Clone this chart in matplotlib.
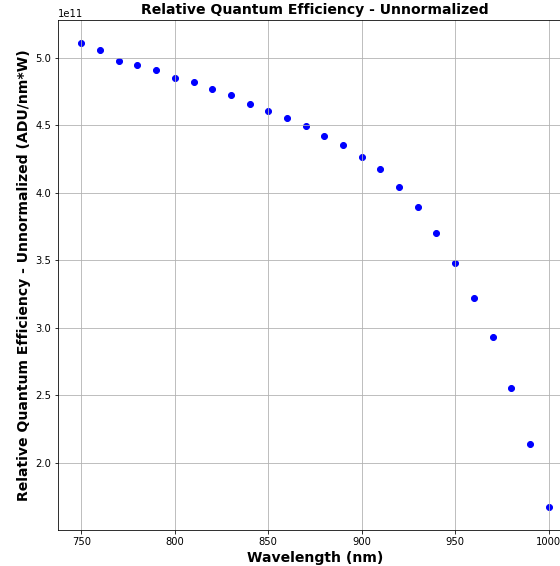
import matplotlib
matplotlib.use('Agg')
import matplotlib.pyplot as plt
import numpy as np

# 波長 (nm) 與未正規化量子效率
wavelength = [750, 760, 770, 780, 790, 800, 810, 820, 830, 840, 850, 860, 870,
              880, 890, 900, 910, 920, 930, 940, 950, 960, 970, 980, 990, 1000]
qe = [5.106, 5.052, 4.976, 4.943, 4.904, 4.850, 4.815, 4.765, 4.721, 4.657,
      4.605, 4.553, 4.494, 4.420, 4.350, 4.267, 4.173, 4.042, 3.891, 3.699,
      3.479, 3.222, 2.931, 2.552, 2.136, 1.674]
qe = np.array(qe) * 1e11

fig = plt.figure(figsize=(560/72, 566/72), dpi=72)
# 原圖右邊被裁掉, 所以軸延伸到畫布外
ax = fig.add_axes([58/560, 36/566, 514/560, 510/566])

ax.scatter(wavelength, qe, color='blue', s=36)
ax.set_title('Relative Quantum Efficiency - Unnormalized', fontsize=14, fontweight='bold')
ax.set_xlabel('Wavelength (nm)', fontsize=14, fontweight='bold')
ax.set_ylabel('Relative Quantum Efficiency - Unnormalized (ADU/nm*W)', fontsize=14, fontweight='bold')
ax.tick_params(labelsize=10)
ax.grid(True)

fig.savefig('out.png', dpi=72)
